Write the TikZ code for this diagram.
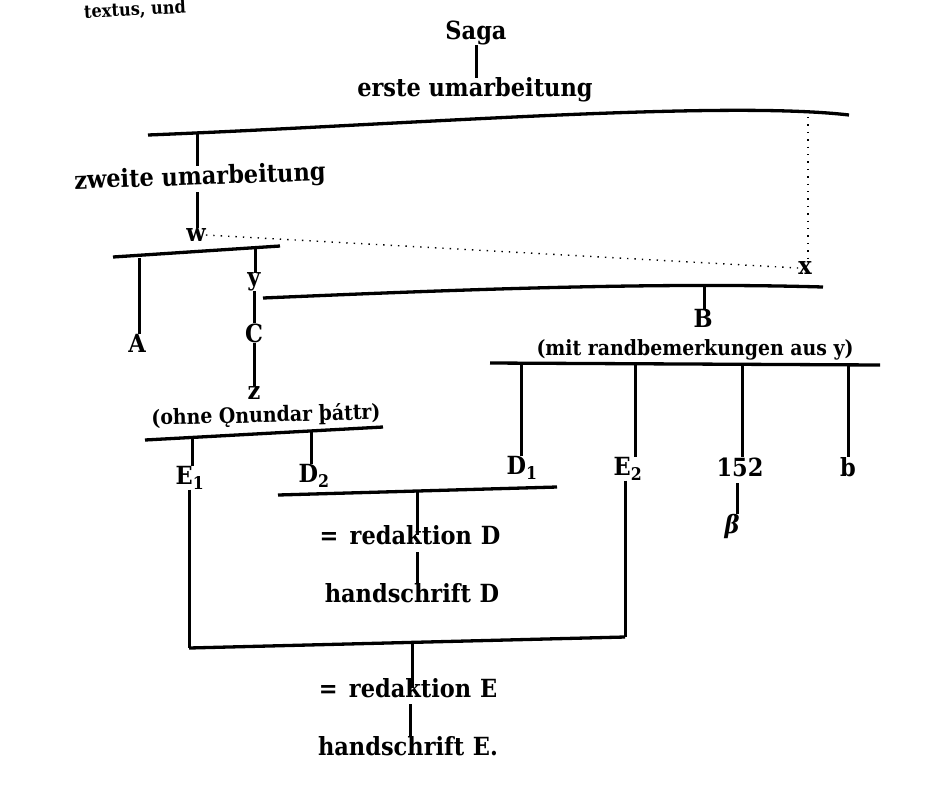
\documentclass[tikz,border=0pt]{standalone}
\usepackage{fontspec}
\setmainfont{DejaVu Serif Condensed}
\begin{document}
\begin{tikzpicture}[x=1pt,y=-1pt,
  lbl/.style={font=\bfseries\fontsize{25}{27}\selectfont, inner sep=0pt},
  small/.style={font=\bfseries\fontsize{21}{24}\selectfont, inner sep=0pt},
  bar/.style={line width=3.3pt},
  stem/.style={line width=3pt},
  dots/.style={line width=1.4pt, dash pattern=on 1.4pt off 6pt}]
\useasboundingbox (0,0) rectangle (939,796);
\clip (0,0) rectangle (939,796);

% running text of the page above the stemma
\node[font=\bfseries\fontsize{18}{20}\selectfont, inner sep=0pt, rotate=3, anchor=west] (runhead) at (84,13) {textus, und};

% first recension
\node[lbl] (saga) at (476,33) {Saga};
\node[lbl] (erste) at (475,90) {erste umarbeitung};
\draw[stem] (saga.south) -- (saga.south |- erste.north);
\coordinate (e1L) at (148,135);
\coordinate (e1R) at (849,115);
\draw[bar] (e1L) .. controls (400,125) and (720,100) .. (e1R);

% second recension and w
\coordinate (e1s) at (197,132);
\node[lbl, rotate=2] (zweite) at (200,178) {zweite umarbeitung};
\draw[stem] (e1s) -- (e1s |- zweite.north);
\node[lbl] (w) at (196,235) {w};
\coordinate (zws) at (197,192);
\draw[stem] (zws) -- (zws |- w.north);

% x, linked by dots
\coordinate (e1x) at (808,117);
\node[lbl] (x) at (805,268) {x};
\draw[dots] (e1x) -- (e1x |- x.north);
\draw[dots] (w.east) -- (x.west);

% split of w
\coordinate (wL) at (113,257);
\coordinate (wR) at (280,246);
\draw[bar] (wL) -- (wR);
\coordinate (wA) at (139,258);
\coordinate (wy) at (255,248);
\node[lbl] (A) at (137,343) {A};
\node[lbl] (y) at (254,282) {y};
\draw[stem] (wA) -- (wA |- A.north);
\draw[stem] (wy) -- (wy |- y.north);

% y and its descendants
\coordinate (yL) at (263,298);
\coordinate (yR) at (823,287);
\draw[bar] (yL) .. controls (450,290) and (650,282) .. (yR);
\node[lbl] (C) at (254,333) {C};
\draw[stem] (y.south) -- (y.south |- C.north);
\node[lbl] (z) at (254,393) {z};
\draw[stem] (C.south) -- (C.south |- z.north);
\coordinate (yB) at (704,286);
\node[lbl] (B) at (703,318) {B};
\draw[stem] (yB) -- (yB |- B.north);

% z branch
\node[small, rotate=1.5] (ohne) at (266,416) {(ohne Ǫnundar þáttr)};
\coordinate (zL) at (145,440);
\coordinate (zR) at (383,427);
\draw[bar] (zL) -- (zR);
\coordinate (zE) at (192,438);
\coordinate (zD) at (311,432);
\node[lbl] (E1) at (190,478) {E\textsubscript{1}};
\node[lbl] (D2) at (314,476) {D\textsubscript{2}};
\draw[stem] (zE) -- (zE |- E1.north);
\draw[stem] (zD) -- (zD |- D2.north);

% B branch
\node[small] (mit) at (695,350) {(mit randbemerkungen aus y)};
\coordinate (bL) at (490,363);
\coordinate (bR) at (880,365);
\draw[bar] (bL) -- (bR);
\coordinate (bD) at (521,364);
\coordinate (bE) at (635,364);
\coordinate (bN) at (742,364);
\coordinate (bb) at (848,364);
\node[lbl] (D1) at (522,468) {D\textsubscript{1}};
\node[lbl] (E2) at (628,469) {E\textsubscript{2}};
\node[lbl] (n152) at (740,467) {152};
\node[lbl] (b) at (848,467) {b};
\draw[stem] (bD) -- (bD |- D1.north);
\draw[stem] (bE) -- (bE |- E2.north);
\draw[stem] (bN) -- (bN |- n152.north);
\draw[stem] (bb) -- (bb |- b.north);
\node[lbl] (beta) at (732,526) {\itshape β};
\coordinate (nb) at (737,483);
\draw[stem] (nb) -- (nb |- beta.north);

% redaction D
\coordinate (dL) at (278,495);
\coordinate (dR) at (557,487);
\draw[bar] (dL) -- (dR);
\coordinate (dS) at (417,492);
\node[lbl] (redD) at (410,535) {=\hspace{0.45em}redaktion\hspace{0.35em}D};
\node[lbl] (hsD) at (412,593) {handschrift\hspace{0.35em}D};
\draw[stem] (dS) -- (dS |- redD.center);
\coordinate (rdS) at (417,552);
\draw[stem] (rdS) -- (rdS |- hsD.north);

% redaction E
\coordinate (eL) at (189,648);
\coordinate (eR) at (625,637);
\draw[stem] (E1.south -| eL) -- (eL);
\draw[stem] (E2.south -| eR) -- (eR);
\draw[bar] (eL) -- (eR);
\coordinate (eS) at (412,643);
\node[lbl] (redE) at (408,688) {=\hspace{0.45em}redaktion\hspace{0.35em}E};
\node[lbl] (hsE) at (408,746) {handschrift\hspace{0.35em}E.};
\draw[stem] (eS) -- (eS |- redE.center);
\coordinate (reS) at (410,704);
\draw[stem] (reS) -- (reS |- hsE.north);
\end{tikzpicture}
\end{document}
